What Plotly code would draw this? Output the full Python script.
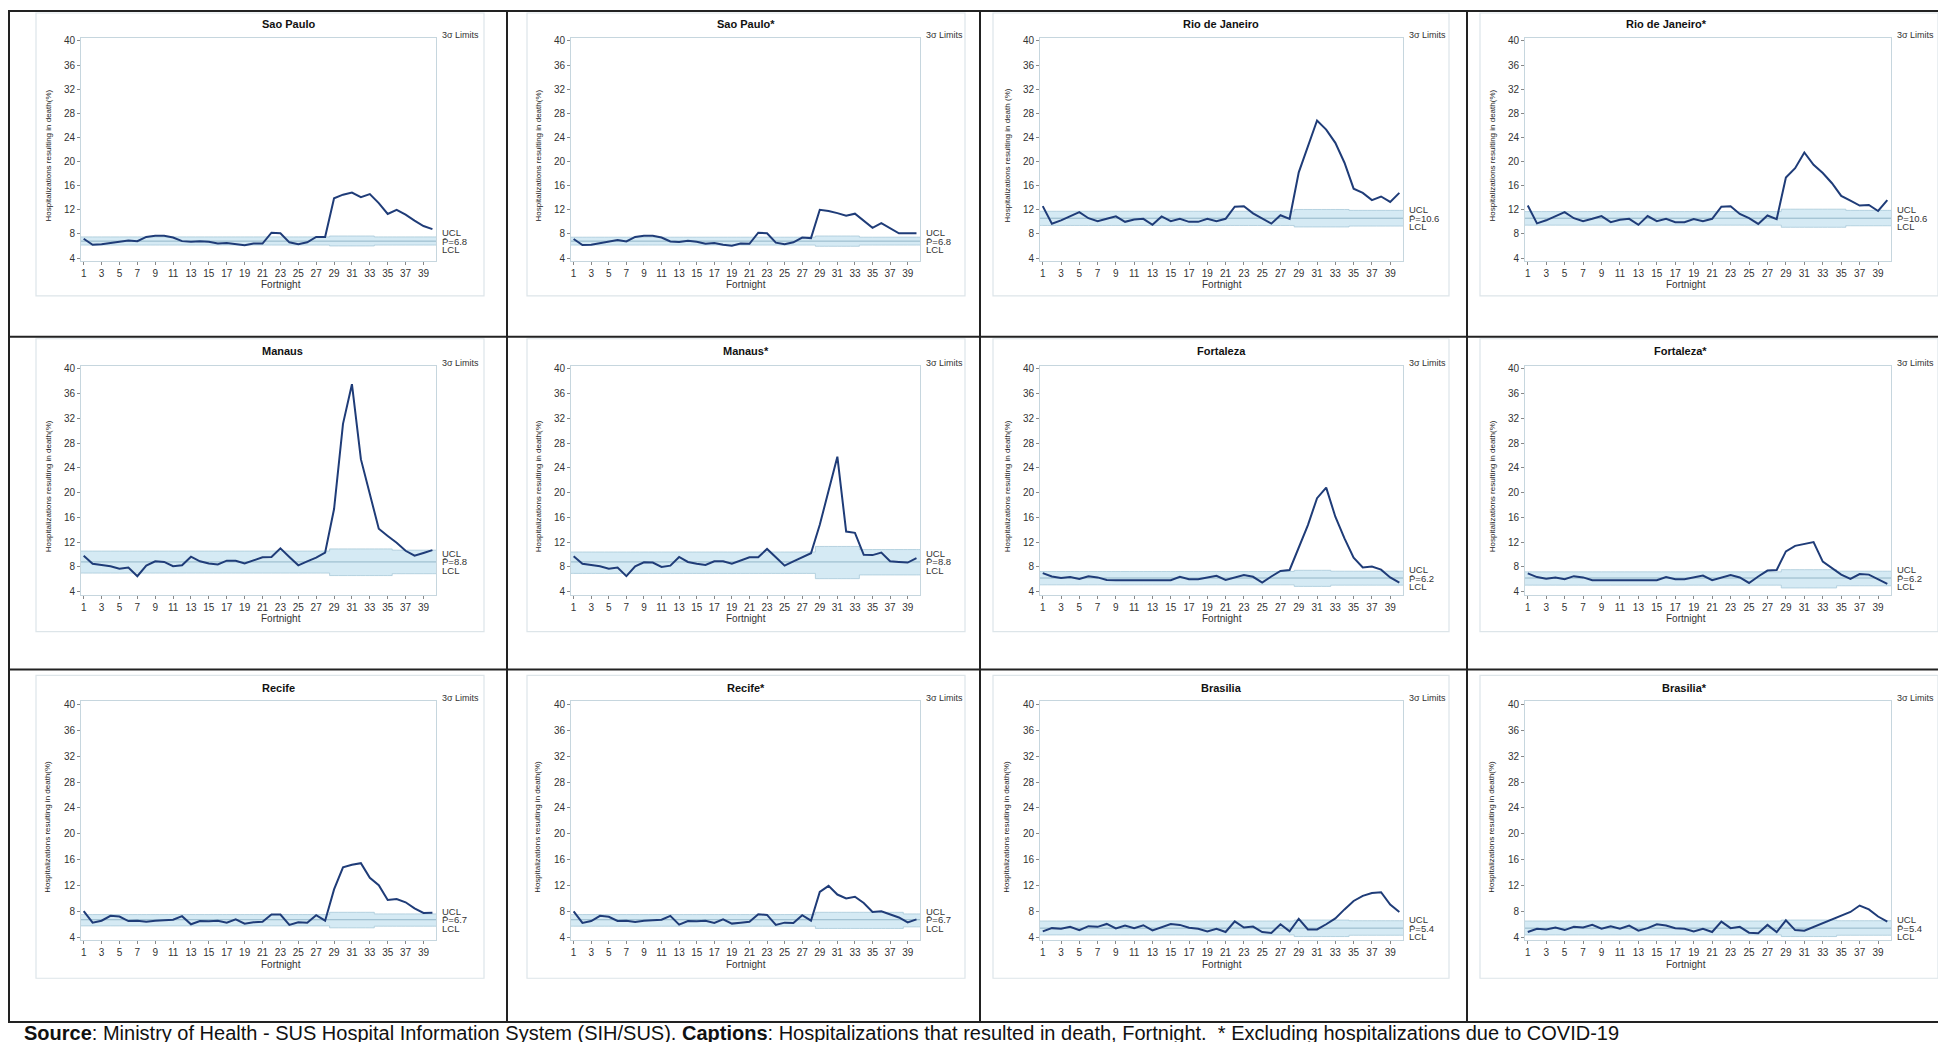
import plotly.graph_objects as go

W, H = 1946, 1042
fortnight = list(range(1, 41))
x_ticks = list(range(1, 40, 2))
y_ticks = list(range(4, 41, 4))

# ---------------- data ----------------
sao_paulo = [7.2, 6.2, 6.3, 6.5, 6.8, 6.9, 6.8, 7.5, 7.7, 7.7, 7.4, 6.8, 6.7, 6.8, 6.7, 6.4, 6.5, 6.3, 6.1, 6.4,
             6.4, 8.2, 8.1, 6.6, 6.3, 6.6, 7.5, 7.5, 13.9, 14.5, 14.85, 14.1, 14.6, 13.1, 11.3, 12.0, 11.2, 10.2, 9.3, 8.8]
sao_paulo_ucl = [7.5] * 28 + [7.65] * 5 + [7.5] * 7
sao_paulo_lcl = [6.15] * 28 + [6.0] * 5 + [6.15] * 7

sao_paulo_x = [7.15, 6.15, 6.2, 6.5, 6.8, 7.0, 6.75, 7.5, 7.7, 7.7, 7.4, 6.75, 6.65, 6.85, 6.7, 6.35, 6.5, 6.2, 6.05, 6.4,
               6.35, 8.2, 8.1, 6.55, 6.3, 6.6, 7.4, 7.3, 12.0, 11.8, 11.45, 11.0, 11.35, 10.1, 9.0, 9.8, 8.9, 8.1, 8.1, 8.1]
sao_paulo_x_ucl = [7.45] * 28 + [7.65] * 5 + [7.45] * 7
sao_paulo_x_lcl = [6.15] * 28 + [5.95] * 5 + [6.15] * 7

rio = [12.6, 9.7, 10.25, 10.9, 11.6, 10.6, 10.1, 10.5, 10.9, 10.0, 10.4, 10.5, 9.5, 10.9, 10.1, 10.5, 10.0, 10.0, 10.5, 10.1,
       10.5, 12.5, 12.6, 11.4, 10.6, 9.7, 11.1, 10.5, 18.2, 22.4, 26.8, 25.3, 23.1, 19.8, 15.5, 14.8, 13.6, 14.2, 13.3, 14.8]
rio_ucl = [11.75] * 28 + [12.05] * 6 + [11.9] * 6
rio_lcl = [9.4] * 28 + [9.15] * 6 + [9.3] * 6

rio_x = [12.7, 9.75, 10.25, 10.9, 11.6, 10.6, 10.1, 10.5, 10.95, 9.95, 10.35, 10.5, 9.5, 10.95, 10.1, 10.5, 9.95, 9.95, 10.45, 10.1,
         10.5, 12.5, 12.6, 11.3, 10.6, 9.65, 11.05, 10.45, 17.35, 18.9, 21.5, 19.45, 18.1, 16.4, 14.3, 13.5, 12.7, 12.8, 11.8, 13.6]
rio_x_ucl = [11.7] * 28 + [12.1] * 7 + [11.9] * 5
rio_x_lcl = [9.45] * 28 + [9.1] * 7 + [9.35] * 5

manaus = [9.8, 8.5, 8.3, 8.1, 7.7, 7.9, 6.5, 8.2, 8.9, 8.8, 8.1, 8.25, 9.65, 8.9, 8.55, 8.4, 9.0, 9.0, 8.55, 9.0,
          9.55, 9.6, 11.0, 9.6, 8.25, 8.9, 9.5, 10.3, 17.35, 31.1, 37.5, 25.4, 19.7, 14.15, 13.0, 11.9, 10.6, 9.8, 10.25, 10.7]
manaus_ucl = [10.55] * 28 + [10.9] * 7 + [10.7] * 5
manaus_lcl = [7.0] * 28 + [6.6] * 7 + [6.9] * 5

manaus_x = [9.7, 8.5, 8.3, 8.1, 7.7, 7.9, 6.5, 8.1, 8.75, 8.7, 8.0, 8.2, 9.6, 8.8, 8.5, 8.3, 8.9, 8.9, 8.5, 9.0,
            9.55, 9.55, 10.9, 9.55, 8.2, 8.9, 9.55, 10.2, 14.8, 20.2, 25.8, 13.7, 13.5, 9.95, 9.9, 10.3, 8.9, 8.8, 8.7, 9.4]
manaus_x_ucl = [10.4] * 28 + [11.3] * 5 + [10.8] * 7
manaus_x_lcl = [6.95] * 28 + [6.1] * 5 + [6.7] * 7

fortaleza = [7.0, 6.45, 6.2, 6.35, 6.05, 6.5, 6.3, 5.9, 5.85, 5.85, 5.85, 5.85, 5.75, 5.8, 5.85, 6.4, 6.0, 6.0, 6.3, 6.55,
             5.9, 6.3, 6.7, 6.4, 5.45, 6.45, 7.35, 7.5, 11.1, 14.75, 19.1, 20.8, 16.1, 12.6, 9.5, 7.9, 8.05, 7.55, 6.3, 5.45]
fortaleza_ucl = [7.25] * 28 + [7.45] * 4 + [7.3] * 8
fortaleza_lcl = [5.1] * 28 + [4.85] * 4 + [5.05] * 8

fortaleza_x = [6.95, 6.35, 6.1, 6.3, 6.0, 6.5, 6.3, 5.85, 5.85, 5.85, 5.85, 5.85, 5.75, 5.85, 5.85, 6.35, 6.0, 6.0, 6.3, 6.6,
               5.85, 6.3, 6.7, 6.3, 5.4, 6.45, 7.4, 7.5, 10.5, 11.4, 11.7, 12.0, 8.85, 7.8, 6.75, 6.05, 6.85, 6.75, 6.05, 5.25]
fortaleza_x_ucl = [7.2] * 28 + [7.55] * 6 + [7.3] * 6
fortaleza_x_lcl = [5.05] * 28 + [4.6] * 6 + [4.95] * 6

recife = [8.05, 6.25, 6.55, 7.3, 7.2, 6.5, 6.55, 6.4, 6.55, 6.65, 6.7, 7.25, 6.0, 6.5, 6.45, 6.55, 6.25, 6.75, 6.1, 6.3,
          6.4, 7.5, 7.5, 5.9, 6.3, 6.25, 7.4, 6.55, 11.4, 14.8, 15.2, 15.45, 13.2, 12.05, 9.75, 9.9, 9.4, 8.45, 7.75, 7.8]
recife_ucl = [7.5] * 28 + [7.85] * 5 + [7.6] * 7
recife_lcl = [5.75] * 28 + [5.45] * 5 + [5.7] * 7

recife_x = [8.0, 6.2, 6.5, 7.3, 7.15, 6.5, 6.55, 6.35, 6.55, 6.65, 6.7, 7.3, 5.95, 6.5, 6.45, 6.55, 6.2, 6.75, 6.1, 6.25,
            6.4, 7.55, 7.45, 5.9, 6.25, 6.2, 7.4, 6.55, 11.0, 11.95, 10.6, 10.0, 10.25, 9.3, 7.9, 8.0, 7.55, 7.05, 6.3, 6.75]
recife_x_ucl = [7.5] * 28 + [7.85] * 10 + [7.6] * 2
recife_x_lcl = [5.7] * 28 + [5.35] * 10 + [5.6] * 2

brasilia = [4.9, 5.4, 5.3, 5.6, 5.1, 5.7, 5.6, 6.05, 5.35, 5.8, 5.4, 5.85, 5.05, 5.5, 6.05, 5.9, 5.45, 5.3, 4.9, 5.3,
            4.8, 6.45, 5.5, 5.65, 4.8, 4.65, 6.0, 4.9, 6.85, 5.2, 5.2, 6.0, 6.9, 8.3, 9.6, 10.4, 10.85, 10.95, 9.05, 7.9]
brasilia_ucl = [6.5] * 28 + [6.65] * 6 + [6.55] * 6
brasilia_lcl = [4.35] * 28 + [4.1] * 6 + [4.3] * 6

brasilia_x = [4.8, 5.3, 5.2, 5.5, 5.1, 5.6, 5.5, 5.9, 5.3, 5.7, 5.3, 5.8, 5.0, 5.4, 6.0, 5.8, 5.4, 5.3, 4.9, 5.3,
              4.8, 6.4, 5.4, 5.6, 4.7, 4.6, 5.9, 4.8, 6.6, 5.1, 5.0, 5.6, 6.2, 6.8, 7.4, 7.9, 8.9, 8.3, 7.2, 6.4]
brasilia_x_ucl = [6.5] * 28 + [6.65] * 6 + [6.55] * 6
brasilia_x_lcl = [4.35] * 28 + [4.1] * 6 + [4.3] * 6

titles = ["Sao Paulo", "Sao Paulo*", "Rio de Janeiro", "Rio de Janeiro*",
          "Manaus", "Manaus*", "Fortaleza", "Fortaleza*",
          "Recife", "Recife*", "Brasilia", "Brasilia*"]
p_bar = [6.8, 6.8, 10.6, 10.6, 8.8, 8.8, 6.2, 6.2, 6.7, 6.7, 5.4, 5.4]
series = [sao_paulo, sao_paulo_x, rio, rio_x, manaus, manaus_x, fortaleza, fortaleza_x,
          recife, recife_x, brasilia, brasilia_x]
ucls = [sao_paulo_ucl, sao_paulo_x_ucl, rio_ucl, rio_x_ucl, manaus_ucl, manaus_x_ucl,
        fortaleza_ucl, fortaleza_x_ucl, recife_ucl, recife_x_ucl, brasilia_ucl, brasilia_x_ucl]
lcls = [sao_paulo_lcl, sao_paulo_x_lcl, rio_lcl, rio_x_lcl, manaus_lcl, manaus_x_lcl,
        fortaleza_lcl, fortaleza_x_lcl, recife_lcl, recife_x_lcl, brasilia_lcl, brasilia_x_lcl]

# ---------------- layout geometry (pixels) ----------------
col_plot = [(73, 428), (563, 912), (1032, 1395), (1517, 1883)]
row_plot = [(28, 252), (357, 587), (694, 934)]
col_frame = [(28, 476), (519, 957), (985, 1441), (1472, 1930)]
row_frame = [(3, 287), (330, 624), (668, 972)]
title_y = [14, 342, 681]

X_RANGE = [0.7, 40.4]
Y_RANGE = [3.5, 40.5]

FONT = "Liberation Sans, Arial, sans-serif"
LINE_COLOR = "#1f3c78"
BAND_FILL = "rgba(185, 220, 236, 0.6)"
BAND_EDGE = "#a8c9d9"
CENTER = "#93b6c8"
AXIS_COLOR = "#c6d6de"


def px(x):
    return x / W


def py(y):
    return 1 - y / H


fig = go.Figure()
annotations = []
shapes = []

for i in range(12):
    r, c = divmod(i, 4)
    ax = "" if i == 0 else str(i + 1)
    xa, ya = "x" + ax, "y" + ax
    x0, x1 = col_plot[c]
    y0, y1 = row_plot[r]

    xb = [X_RANGE[0]] + fortnight + [X_RANGE[1]]
    lcl = [lcls[i][0]] + lcls[i] + [lcls[i][-1]]
    ucl = [ucls[i][0]] + ucls[i] + [ucls[i][-1]]
    fig.add_trace(go.Scatter(x=xb, y=lcl, mode="lines", line=dict(color=BAND_EDGE, width=0.8, shape="hvh"),
                             xaxis=xa, yaxis=ya, showlegend=False, hoverinfo="skip"))
    fig.add_trace(go.Scatter(x=xb, y=ucl, mode="lines", line=dict(color=BAND_EDGE, width=0.8, shape="hvh"),
                             fill="tonexty", fillcolor=BAND_FILL,
                             xaxis=xa, yaxis=ya, showlegend=False, hoverinfo="skip"))
    fig.add_trace(go.Scatter(x=X_RANGE, y=[p_bar[i], p_bar[i]], mode="lines",
                             line=dict(color=CENTER, width=1),
                             xaxis=xa, yaxis=ya, showlegend=False, hoverinfo="skip"))
    fig.add_trace(go.Scatter(x=fortnight, y=series[i], mode="lines",
                             line=dict(color=LINE_COLOR, width=2),
                             xaxis=xa, yaxis=ya, showlegend=False))

    axis_common = dict(showgrid=False, zeroline=False, showline=True, mirror=True,
                       linecolor=AXIS_COLOR, linewidth=1, ticks="outside", ticklen=3,
                       tickcolor="#888888", tickfont=dict(family=FONT, size=10, color="#333333"))
    fig.layout["xaxis" + ax] = dict(domain=[px(x0), px(x1)], anchor=ya, range=X_RANGE,
                                    tickvals=x_ticks, **axis_common)
    fig.layout["yaxis" + ax] = dict(domain=[py(y1), py(y0)], anchor=xa, range=Y_RANGE,
                                    tickvals=y_ticks, **axis_common)

    fx0, fx1 = col_frame[c]
    fy0, fy1 = row_frame[r]
    shapes.append(dict(type="rect", xref="paper", yref="paper", x0=px(fx0), x1=px(fx1),
                       y0=py(fy1), y1=py(fy0), line=dict(color="#dde5e9", width=1.2)))

    # title
    annotations.append(dict(text="<b>%s</b>" % titles[i], xref="paper", yref="paper",
                            x=px((fx0 + fx1) / 2), y=py(title_y[r]), showarrow=False,
                            font=dict(family=FONT, size=11, color="#111111"), yanchor="middle"))
    # 3 sigma limits
    annotations.append(dict(text="3σ Limits", xref="paper", yref="paper",
                            x=px(x1 + 4), y=py(y0 - 3), xanchor="left", yanchor="middle", showarrow=False,
                            font=dict(family=FONT, size=9, color="#333333")))
    # UCL / P / LCL labels
    for txt, dy in (("UCL", -8.5), ("P\u0304=%s" % p_bar[i], 0), ("LCL", 8.5)):
        annotations.append(dict(text=txt, xref=xa + " domain", yref=ya,
                                x=1.0, y=p_bar[i], showarrow=False, xanchor="left", yanchor="middle",
                                xshift=4, yshift=-dy,
                                font=dict(family=FONT, size=9.5, color="#333333")))
    # x title
    annotations.append(dict(text="Fortnight", xref="paper", yref="paper",
                            x=px((x0 + x1) / 2), y=py(y1 + 24), showarrow=False, yanchor="middle",
                            font=dict(family=FONT, size=10, color="#333333")))
    # y title
    ytxt = "Hospitalizations resulting in death (%)" if i == 2 else "Hospitalizations resulting in death(%)"
    annotations.append(dict(text=ytxt, xref="paper", yref="paper", textangle=-90,
                            x=px(x0 - 33), y=py((y0 + y1) / 2 + 6), showarrow=False,
                            xanchor="center", yanchor="middle",
                            font=dict(family=FONT, size=8, color="#222222")))

# table grid lines
GRID = "#222222"
shapes.append(dict(type="rect", xref="paper", yref="paper", x0=px(1), x1=px(1944), y0=py(1016), y1=py(1),
                   line=dict(color=GRID, width=2)))
for gx in (499, 972, 1459):
    shapes.append(dict(type="line", xref="paper", yref="paper", x0=px(gx), x1=px(gx), y0=py(1016), y1=py(1),
                       line=dict(color=GRID, width=2)))
for gy in (328, 662):
    shapes.append(dict(type="line", xref="paper", yref="paper", x0=px(1), x1=px(1944), y0=py(gy), y1=py(gy),
                       line=dict(color=GRID, width=2)))

annotations.append(dict(
    text="<b>Source</b>: Ministry of Health - SUS Hospital Information System (SIH/SUS). "
         "<b>Captions</b>: Hospitalizations that resulted in death, Fortnight.  * Excluding hospitalizations due to COVID-19",
    xref="paper", yref="paper", x=px(14), y=py(1027), xanchor="left", yanchor="middle", showarrow=False,
    font=dict(family="Liberation Sans, sans-serif", size=20, color="#111111")))

fig.update_layout(width=W, height=H, margin=dict(l=0, r=0, t=0, b=0),
                  paper_bgcolor="white", plot_bgcolor="white",
                  annotations=annotations, shapes=shapes, showlegend=False)

fig.write_html("out.html")
